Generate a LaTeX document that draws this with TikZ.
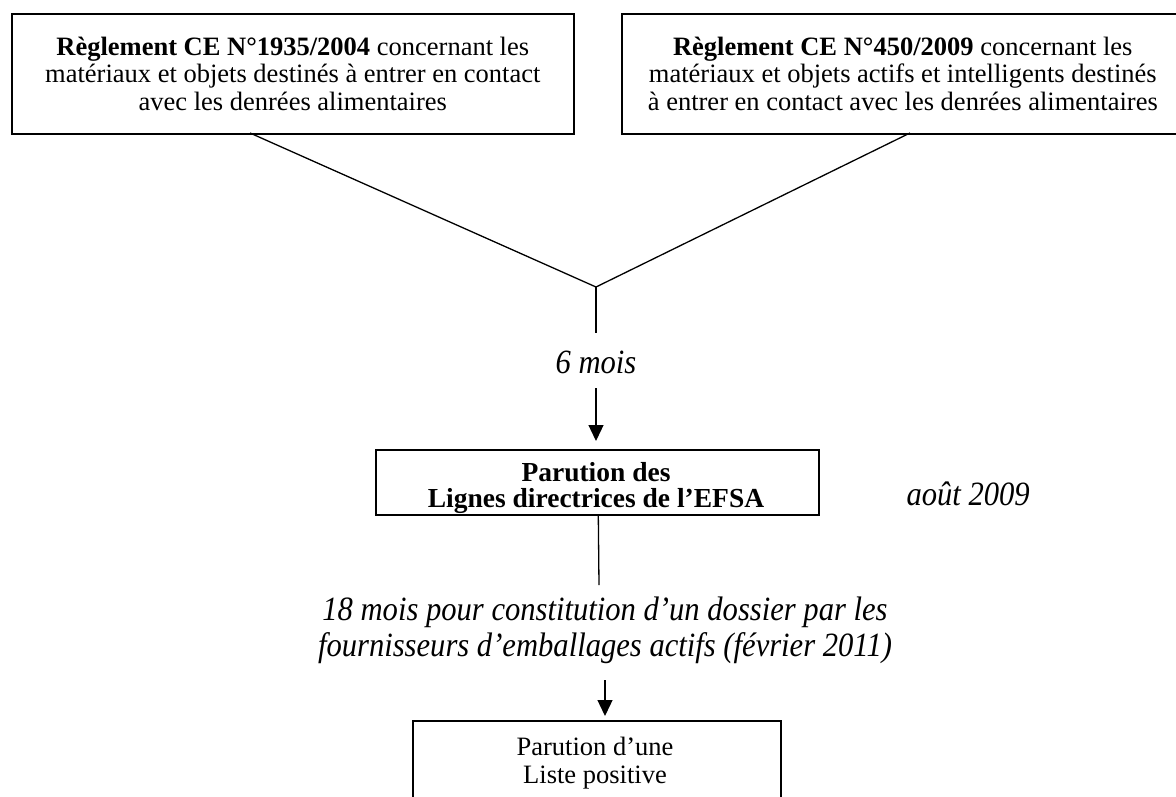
\documentclass[tikz,border=0pt]{standalone}
\usepackage{fontspec}
\setmainfont{Liberation Serif}
\newfontfamily\condit{Liberation Serif}[FakeStretch=0.9]
\usetikzlibrary{arrows.meta}
\begin{document}
\begin{tikzpicture}[x=1pt,y=-1pt,
  box/.style={draw,line width=1.6pt,inner sep=0pt},
  boxtext/.style={align=center,font=\fontsize{26.5}{27.5}\selectfont},
  boldtext/.style={align=center,font=\fontsize{27.5}{25.5}\selectfont\bfseries},
  itlabel/.style={align=center,font=\fontsize{34}{36}\selectfont\condit\itshape},
  conn/.style={line width=1.3pt},
  arr/.style={line width=1.3pt,-{Triangle[width=15pt,length=16pt]}}]
\clip (0,0) rectangle (1176,796);
\useasboundingbox (0,0) rectangle (1176,796);
% boxes
\node[box,minimum width=562pt,minimum height=120pt,anchor=north west] (b1) at (11,13) {};
\node[boxtext] (t1) at (b1.center) {\textbf{Règlement CE N°1935/2004} concernant les\\matériaux et objets destinés à entrer en contact\\avec les denrées alimentaires};
\node[box,minimum width=562pt,minimum height=120pt,anchor=north west] (b2) at (621,13) {};
\node[boxtext] (t2) at (b2.center) {\textbf{Règlement CE N°450/2009} concernant les\\matériaux et objets actifs et intelligents destinés\\à entrer en contact avec les denrées alimentaires};
\coordinate (s1) at (250,133);
\coordinate (s2) at (910,133);
\coordinate (j) at (596,287);
\coordinate (j2) at (596,333);
\draw[conn] (s1) -- (j) -- (s2);
\draw[conn] (j) -- (j2);
\node[itlabel] (m6) at (596,362) {6 mois};
\coordinate (a1) at (596,388);
\node[box,minimum width=443pt,minimum height=65pt,anchor=north west] (b3) at (375,449) {};
\node[boldtext,anchor=base] (t3) at (596,507) {Parution des\\Lignes directrices de l’EFSA};
\draw[arr,shorten >=8pt] (a1) -- (a1 |- b3.north);
\node[itlabel,anchor=base west] (aout) at (903,505) {août 2009};
\coordinate (l2) at (599,585);
\draw[conn] ([xshift=1pt]b3.south) -- (l2);
\node[itlabel,anchor=base] (m18) at (605,656) {18 mois pour constitution d’un dossier par les\\fournisseurs d’emballages actifs (février 2011)};
\coordinate (a2) at (605,680);
\node[box,minimum width=368pt,minimum height=120pt,anchor=north west] (b4) at (412,720) {};
\node[boxtext,anchor=base] (t4) at (595,783) {Parution d’une\\Liste positive};
\draw[arr,shorten >=4pt] (a2) -- (a2 |- b4.north);
\end{tikzpicture}
\end{document}
